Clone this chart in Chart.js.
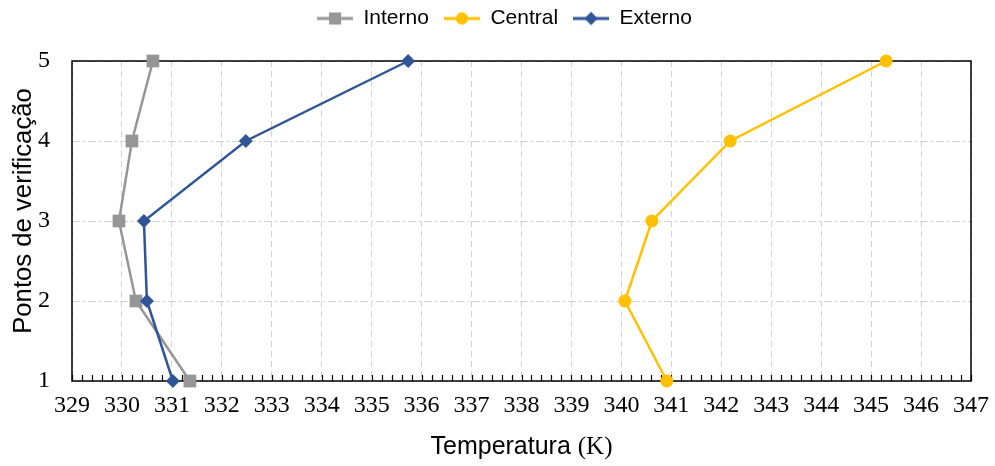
<!DOCTYPE html>
<html>
<head>
<meta charset="utf-8">
<script src="https://cdn.jsdelivr.net/npm/chart.js@4.4.1/dist/chart.umd.min.js"></script>
<style>
  html, body { margin: 0; padding: 0; background: #fff; }
  #wrap { width: 995px; height: 466px; }
</style>
</head>
<body>
<div id="wrap"><canvas id="tempChart" width="995" height="466"></canvas></div>
<script>
// pontos de verificação (eixo y) e temperaturas em K
const pontos = [1, 2, 3, 4, 5];
const interno = [331.36, 330.28, 329.94, 330.20, 330.62];
const central = [340.91, 340.07, 340.61, 342.18, 345.30];
const externo = [331.02, 330.50, 330.44, 332.48, 335.73];
const nomes = ['Interno', 'Central', 'Externo'];

const xMin = 329, xMax = 347, minorStep = 0.2;

const serif = "'Liberation Serif', 'Times New Roman', serif";
const sans = "'Liberation Sans', Arial, sans-serif";

function toPoints(temps) {
  return temps.map((t, i) => ({ x: t, y: pontos[i] }));
}

// legend swatch: short line with the marker on top
function legendIcon(color, style, radius) {
  const c = document.createElement('canvas');
  c.width = 36; c.height = 18;
  const g = c.getContext('2d');
  g.strokeStyle = color;
  g.lineWidth = 3;
  g.beginPath();
  g.moveTo(0, 9);
  g.lineTo(36, 9);
  g.stroke();
  g.fillStyle = color;
  Chart.helpers.drawPoint(g, { pointStyle: style, radius: radius, borderWidth: 0, rotation: 0 }, 18, 9);
  return c;
}

// extra room between the legend and the plot
const legendGap = {
  id: 'legendGap',
  beforeInit(chart) {
    const fit = chart.legend.fit;
    chart.legend.fit = function () {
      fit.call(this);
      this.height += 22;
    };
  }
};

// plot frame and small inward ticks along the bottom axis
const frameAndTicks = {
  id: 'frameAndTicks',
  beforeDatasetsDraw(chart) {
    const { ctx, chartArea: a, scales: { x } } = chart;
    ctx.save();
    ctx.strokeStyle = '#000';
    ctx.lineWidth = 1.5;
    ctx.strokeRect(a.left, a.top, a.right - a.left, a.bottom - a.top);
    ctx.lineWidth = 1.2;
    ctx.beginPath();
    const n = Math.round((xMax - xMin) / minorStep);
    for (let i = 0; i <= n; i++) {
      const px = Math.round(x.getPixelForValue(xMin + i * minorStep)) + 0.5;
      ctx.moveTo(px, a.bottom);
      ctx.lineTo(px, a.bottom - 6);
    }
    ctx.stroke();
    ctx.restore();
  }
};

// axis titles; the unit "(K)" is set in the serif face
const axisTitles = {
  id: 'axisTitles',
  afterDraw(chart) {
    const { ctx, chartArea: a } = chart;
    ctx.save();
    ctx.fillStyle = '#000';
    ctx.textBaseline = 'alphabetic';

    const fs = '25px ' + sans, ff = '25px ' + serif;
    const part1 = 'Temperatura ', part2 = '(K)';
    ctx.font = fs;
    const w1 = ctx.measureText(part1).width;
    ctx.font = ff;
    const w2 = ctx.measureText(part2).width;
    const x0 = (a.left + a.right) / 2 - (w1 + w2) / 2;
    ctx.textAlign = 'left';
    ctx.font = fs;
    ctx.fillText(part1, x0, 454);
    ctx.font = ff;
    ctx.fillText(part2, x0 + w1, 454);

    ctx.translate(31, (a.top + a.bottom) / 2 - 10);
    ctx.rotate(-Math.PI / 2);
    ctx.textAlign = 'center';
    ctx.font = '25.7px ' + sans;
    ctx.fillText('Pontos de verificação', 0, 0);
    ctx.restore();
  }
};

const styles = [
  { color: '#969696', pointStyle: 'rect', radius: 9 },
  { color: '#FFC000', pointStyle: 'circle', radius: 6.5 },
  { color: '#2F5597', pointStyle: 'rectRot', radius: 7 }
];
const valores = [interno, central, externo];

const datasets = nomes.map((nome, i) => ({
  label: nome,
  data: toPoints(valores[i]),
  showLine: true,
  borderColor: styles[i].color,
  backgroundColor: styles[i].color,
  borderWidth: 2.5,
  pointStyle: styles[i].pointStyle,
  pointRadius: styles[i].radius,
  pointHoverRadius: styles[i].radius,
  pointBorderWidth: 0,
  clip: false,
  order: 2 - i
}));

new Chart(document.getElementById('tempChart'), {
  type: 'scatter',
  data: { datasets: datasets },
  plugins: [legendGap, frameAndTicks, axisTitles],
  options: {
    responsive: false,
    animation: false,
    devicePixelRatio: 1,
    layout: { padding: { left: 14, right: 0, top: -7, bottom: 0 } },
    plugins: {
      tooltip: { enabled: false },
      legend: {
        position: 'top',
        labels: {
          usePointStyle: true,
          pointStyleWidth: 36,
          padding: 15,
          color: '#000',
          font: { family: sans, size: 21 },
          generateLabels(chart) {
            return chart.data.datasets.map((ds, i) => ({
              text: ds.label,
              pointStyle: legendIcon(styles[i].color, styles[i].pointStyle, styles[i].radius * 0.95),
              fillStyle: styles[i].color,
              strokeStyle: styles[i].color,
              lineWidth: 0,
              hidden: false,
              fontColor: '#000',
              datasetIndex: i
            }));
          }
        }
      }
    },
    scales: {
      x: {
        type: 'linear',
        min: xMin,
        max: xMax,
        afterFit(scale) {
          scale.height = 85;
          scale.paddingRight = 24;
        },
        ticks: {
          stepSize: 1,
          color: '#000',
          padding: 10,
          font: { family: serif, size: 24 }
        },
        grid: { color: '#D2D2D2', lineWidth: 1, drawTicks: false },
        border: { display: false, dash: [6, 4] },
        title: { display: false }
      },
      y: {
        type: 'linear',
        min: 1,
        max: 5,
        afterFit(scale) {
          scale.width = 58;
        },
        ticks: {
          stepSize: 1,
          color: '#000',
          padding: 22,
          font: { family: serif, size: 24 }
        },
        grid: { color: '#D2D2D2', lineWidth: 1, drawTicks: false },
        border: { display: false, dash: [8, 3, 2, 3] },
        title: { display: false }
      }
    }
  }
});
</script>
</body>
</html>
